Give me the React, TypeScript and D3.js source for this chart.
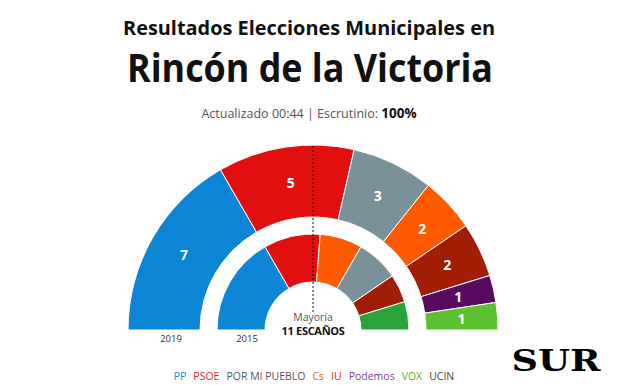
import * as d3 from "d3";

const parties = ["PP", "PSOE", "POR MI PUEBLO", "Cs", "IU", "Podemos", "VOX", "UCIN"];
const legendColors = ["#1a8fd9", "#e8242c", "#555555", "#f26522", "#e8242c", "#7b3f98", "#5cb531", "#444444"];
const arcColors = ["#0c85d6", "#e10f0f", "#7a9197", "#ff5a00", "#a21d06", "#580a5f", "#5bc12e", "#2aa33b"];

// 2019 (outer ring) and 2015 (inner ring), in drawing order
const seats2019 = [
  { party: "PP", seats: 7 },
  { party: "PSOE", seats: 5 },
  { party: "POR MI PUEBLO", seats: 3 },
  { party: "Cs", seats: 2 },
  { party: "IU", seats: 2 },
  { party: "Podemos", seats: 1 },
  { party: "VOX", seats: 1 },
];
const seats2015 = [
  { party: "PP", seats: 7 },
  { party: "PSOE", seats: 4 },
  { party: "Cs", seats: 3 },
  { party: "POR MI PUEBLO", seats: 3 },
  { party: "IU", seats: 2 },
  { party: "UCIN", seats: 2 },
];
const years = ["2019", "2015"];
const majority = 11;

type Seat = { party: string; seats: number };

const W = 624;
const H = 385;
const cx = 313;
const cy = 330;

const color = d3.scaleOrdinal<string, string>().domain(parties).range(arcColors);
const legendColor = d3.scaleOrdinal<string, string>().domain(parties).range(legendColors);

const pie = d3
  .pie<Seat>()
  .value((d) => d.seats)
  .sort(null)
  .startAngle(-Math.PI / 2)
  .endAngle(Math.PI / 2);

const outerArc = d3.arc<d3.PieArcDatum<Seat>>().innerRadius(113).outerRadius(185);
const innerArc = d3.arc<d3.PieArcDatum<Seat>>().innerRadius(48).outerRadius(96);

const legendGap = 7;

export default function App() {
  const outer = pie(seats2019);
  const inner = pie(seats2015);

  // legend item widths measured with a canvas
  const ctx = document.createElement("canvas").getContext("2d")!;
  ctx.font = "10.5px 'Open Sans'";
  const widths = parties.map((p) => ctx.measureText(p).width);
  const total = d3.sum(widths) + legendGap * (parties.length - 1);
  let lx = 314 - total / 2;
  const legendX = widths.map((w) => {
    const x = lx;
    lx += w + legendGap;
    return x;
  });

  return (
    <svg
      width={W}
      height={H}
      style={{ position: "absolute", left: 0, top: 0, background: "#fff" }}
      fontFamily="'Open Sans', sans-serif"
    >
      <text x={309} y={35} textAnchor="middle" fontSize={19} fontWeight={700} fill="#111" textLength={372} lengthAdjust="spacingAndGlyphs">
        Resultados Elecciones Municipales en
      </text>
      <text x={310} y={82} textAnchor="middle" fontSize={40} fontWeight={700} fill="#111" textLength={366} lengthAdjust="spacingAndGlyphs">
        Rincón de la Victoria
      </text>
      <text x={309} y={118} textAnchor="middle" fontSize={12.5} fill="#555">
        Actualizado 00:44 | Escrutinio: <tspan fontWeight={700} fill="#111" fontSize={13.5}>100%</tspan>
      </text>

      <g transform={`translate(${cx},${cy})`}>
        {outer.map((d, i) => (
          <path key={"o" + i} d={outerArc(d)!} fill={color(d.data.party)} stroke="#fff" strokeWidth={1} />
        ))}
        {inner.map((d, i) => (
          <path key={"i" + i} d={innerArc(d)!} fill={color(d.data.party)} stroke="#fff" strokeWidth={1} />
        ))}
        {outer.map((d, i) => {
          const [x, y] = outerArc.centroid(d);
          return (
            <text key={"l" + i} x={x} y={y} dy="0.35em" textAnchor="middle" fontSize={14} fontWeight={700} fill="#fff">
              {d.data.seats}
            </text>
          );
        })}
        <line x1={0} x2={0} y1={-184} y2={-16} stroke="#111" strokeWidth={1} strokeDasharray="2,2" />
        <text x={0} y={-9} textAnchor="middle" fontSize={10.5} fill="#555">Mayoría</text>
        <text x={0} y={5} textAnchor="middle" fontSize={11} fontWeight={700} fill="#111" letterSpacing={-0.3}>
          {majority} ESCAÑOS
        </text>
        <text x={171 - cx} y={12} textAnchor="middle" fontSize={9.5} fill="#333">{years[0]}</text>
        <text x={247 - cx} y={12} textAnchor="middle" fontSize={9.5} fill="#333">{years[1]}</text>
      </g>

      {parties.map((p, i) => (
        <text key={p} x={legendX[i]} y={380} fontSize={10.5} fill={legendColor(p)}>
          {p}
        </text>
      ))}

      <text x={556} y={371} textAnchor="middle" fontSize={30} fontWeight={900} fontFamily="'DejaVu Serif', serif" fill="#000" textLength={89} lengthAdjust="spacingAndGlyphs">
        SUR
      </text>
    </svg>
  );
}
